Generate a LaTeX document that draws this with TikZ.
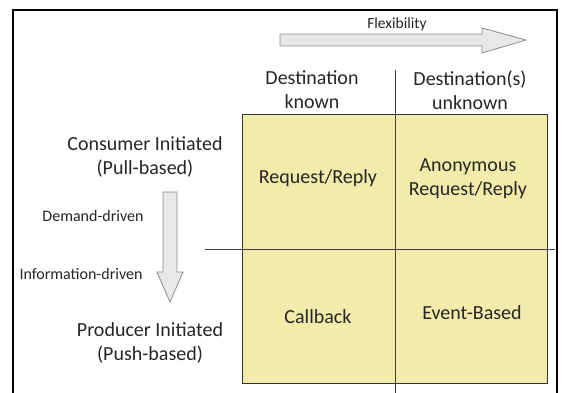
\documentclass[tikz,border=0pt]{standalone}
\usepackage{fontspec}
\setmainfont{Carlito}
\definecolor{quad}{HTML}{F2EBAC}
\definecolor{txt}{HTML}{262626}
\begin{document}
\begin{tikzpicture}[x=1pt,y=-1pt,
  lbl/.style={font=\fontsize{20}{24}\selectfont, align=center, inner sep=0pt, text=txt},
  small/.style={font=\fontsize{16}{19}\selectfont, inner sep=0pt, text=txt},
  bigarrow/.style={draw=black!45, fill=black!9, line width=0.8pt},
  divider/.style={draw=black!75, line width=0.9pt}]
\useasboundingbox (0,0) rectangle (563,393);
\fill[white] (0,0) rectangle (563,393);
\draw[line width=2pt] (13,400) -- (13,10) -- (557,10) -- (557,400);
% quadrant grid
\node[draw=black!80, line width=1.2pt, fill=quad, minimum width=305pt, minimum height=269pt, anchor=north west, inner sep=0pt] (grid) at (242,114) {};
\coordinate (vtop) at (395,70);
\coordinate (vbot) at (395,400);
\coordinate (hleft) at (205,249);
\coordinate (hright) at (555,249);
\draw[divider] (vtop) -- (vbot);
\draw[divider] (hleft) -- (hright);
% arrows
\draw[bigarrow] (280,34) -- (482,34) -- (482,28) -- (526,40) -- (482,53) -- (482,46) -- (280,46) -- cycle;
\draw[bigarrow] (163,192) -- (177,192) -- (177,272) -- (183,272) -- (170,302) -- (157,272) -- (163,272) -- cycle;
% labels
\node[font=\fontsize{15.5}{18}\selectfont, inner sep=0pt, text=txt] (flex) at (397,24) {Flexibility};
\node[lbl] (dk) at (312,90) {Destination\\known};
\node[lbl] (du) at (470,90) {Destination(s)\\unknown};
\node[lbl] (ci) at (145,157) {Consumer Initiated\\(Pull-based)};
\node[lbl] (pi) at (150,343) {Producer Initiated\\(Push-based)};
\node[small] (dd) at (93,216) {Demand-driven};
\node[small] (id) at (81,274) {Information-driven};
\node[lbl] (rr) at (318,178) {Request/Reply};
\node[lbl] (arr) at (468,179) {Anonymous\\Request/Reply};
\node[lbl] (cb) at (318,317) {Callback};
\node[lbl] (eb) at (472,313) {Event-Based};
\end{tikzpicture}
\end{document}
